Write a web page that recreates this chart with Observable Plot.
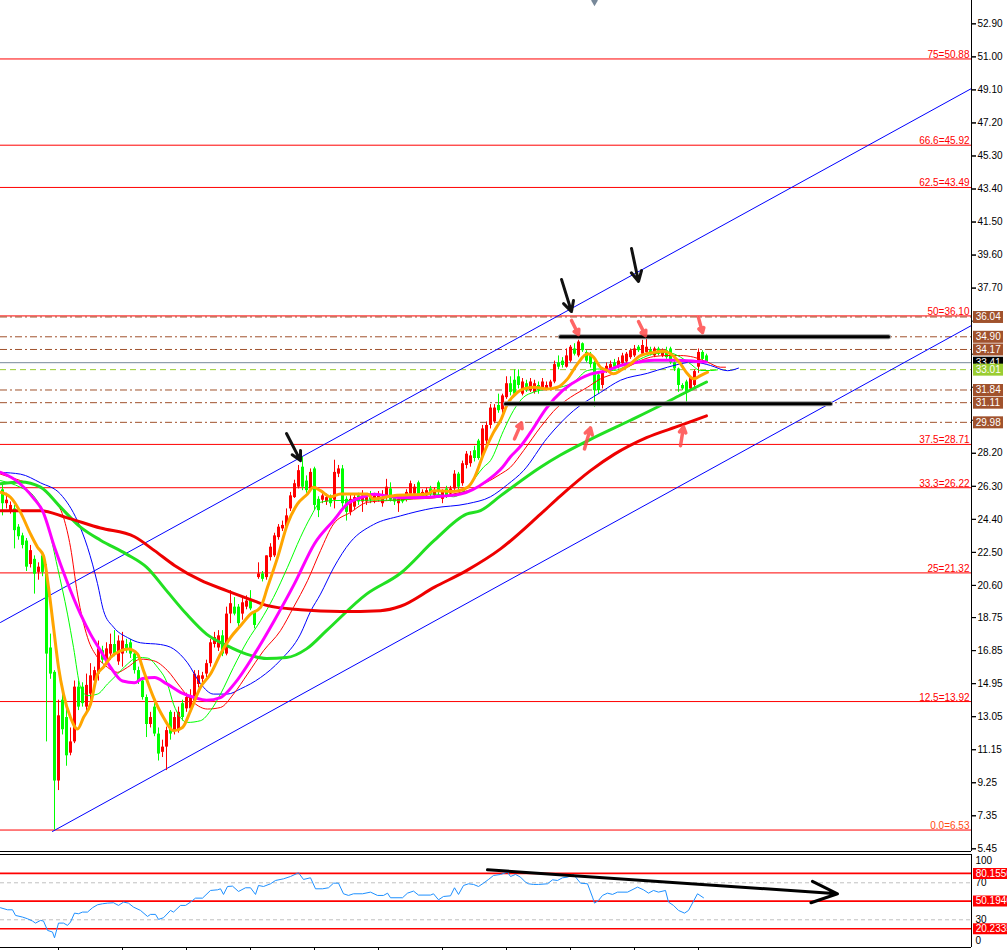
<!DOCTYPE html>
<html><head><meta charset="utf-8">
<script src="https://cdn.jsdelivr.net/npm/d3@7"></script>
<script src="https://cdn.jsdelivr.net/npm/@observablehq/plot@0.6"></script>
<style>
body{margin:0;background:#fff;}
#chart{width:1007px;height:950px;position:relative;overflow:hidden;background:#fff;}
#chart svg{display:block;}
</style></head><body><div id="chart"></div>
<script>
// ---------- price axis ----------
const priceTicks = [52.90,51.00,49.10,47.20,45.30,43.40,41.50,39.60,37.70,35.80,33.90,32.00,30.10,28.20,26.30,24.40,22.50,20.60,18.75,16.85,14.95,13.05,11.15,9.25,7.35,5.45];
const hiddenTickLabels = [35.80,33.90,32.00,30.10]; // covered by the price boxes in the reference
// ---------- fibonacci ----------
const fibLevels = ["75","66.6","62.5","50","37.5","33.3","25","12.5","0.0"];
const fibPrices = [50.88,45.92,43.49,36.10,28.71,26.22,21.32,13.92,6.53];
// ---------- horizontal levels ----------
const levelPrices = [36.04,34.90,34.17,31.84,31.11,29.98];
const bidPrice = [33.41];
const markPrice = [33.01];
// ---------- candles [open, high, low, close], one per bar ----------
const ohlc = [
[26.1,26.4,24.6,25.3],[25.3,25.9,25.0,25.5],[24.8,25.4,24.7,25.2],[25.0,25.2,22.7,23.75],[23.95,24.1,23.2,23.4],
[23.45,23.6,22.7,22.9],[23.15,23.3,21.4,21.65],[21.8,22.9,21.6,22.6],[22.1,22.3,20.1,21.25],[21.35,21.9,20.9,21.65],
[22.3,22.5,21.1,21.35],[21.35,21.8,11.6,16.65],[17.0,17.8,15.2,15.5],[15.6,15.7,6.53,9.35],[9.35,14.0,8.8,13.1],
[14.0,14.6,12.0,12.3],[13.0,13.6,10.2,10.8],[10.95,12.4,10.8,11.6],[11.6,15.1,11.5,14.75],[14.75,15.1,13.4,13.6],
[14.75,15.0,13.6,13.8],[13.6,15.5,13.2,14.85],[14.35,16.1,13.8,15.4],[15.1,15.9,14.9,15.7],[15.5,17.4,15.1,16.95],
[16.85,17.1,16.1,16.3],[16.2,17.3,16.0,16.95],[16.65,17.8,16.3,17.2],[17.2,18.0,16.5,16.65],[16.2,17.7,16.0,17.4],
[16.65,17.9,15.9,17.4],[17.2,17.5,16.7,16.85],[17.3,17.5,16.4,16.65],[16.65,16.8,15.5,15.7],[15.7,15.9,14.9,15.1],
[15.1,15.3,14.0,14.15],[14.15,14.3,11.85,12.6],[12.6,13.3,12.4,13.0],[13.6,13.8,11.9,12.05],[12.05,12.4,10.5,10.9],
[11.0,11.7,10.7,11.3],[11.3,12.45,9.95,12.25],[13.3,13.4,11.7,12.05],[12.25,13.3,12.0,13.0],[12.25,13.6,12.1,13.3],
[13.8,14.0,12.8,13.0],[13.5,14.4,13.3,14.15],[13.5,14.6,13.3,14.25],[13.95,15.7,13.8,15.5],[14.9,15.7,14.7,15.4],
[15.2,15.6,15.0,15.4],[15.5,16.3,15.3,16.1],[16.1,17.5,15.9,17.3],[17.2,17.9,17.0,17.6],[17.0,18.0,16.8,17.7],
[17.7,18.0,16.5,16.65],[16.65,19.35,16.55,18.95],[18.95,20.3,18.4,19.55],[19.35,19.9,18.85,18.95],[19.35,19.5,18.2,18.4],
[18.95,19.9,18.6,19.6],[19.35,20.0,19.2,19.7],[19.8,20.3,19.15,19.25],[19.05,19.15,18.1,18.3],[21.05,21.9,20.95,21.26],
[21.26,21.4,20.8,20.95],[21.05,22.3,20.9,22.3],[22.2,23.0,22.0,22.8],[22.3,23.6,22.2,23.45],[23.35,24.1,23.2,23.95],
[23.85,24.3,23.7,24.05],[23.95,25.0,23.85,24.6],[25.0,25.95,24.85,25.75],[25.65,26.65,25.6,26.45],[26.25,27.5,26.15,27.2],
[27.4,27.97,26.05,26.25],[26.6,26.9,25.9,26.05],[26.15,27.3,26.0,27.1],[27.3,27.4,24.9,25.2],[25.55,25.7,24.5,24.9],
[25.5,26.0,25.3,25.75],[25.4,25.85,25.2,25.65],[25.65,25.8,25.1,25.3],[25.5,27.8,25.0,27.1],[27.0,27.5,26.8,27.3],
[27.3,27.5,25.1,25.3],[25.55,25.7,24.3,24.8],[24.8,25.8,24.6,25.55],[25.1,25.85,24.9,25.65],[25.75,25.9,25.2,25.4],
[25.4,26.05,24.8,25.75],[25.4,25.8,25.2,25.65],[25.85,26.0,25.3,25.5],[25.5,25.9,25.3,25.75],[25.6,26.0,25.4,25.85],
[25.3,26.05,25.1,25.65],[25.65,26.7,25.5,26.25],[26.15,26.5,25.4,25.5],[25.65,25.8,25.2,25.4],[25.3,25.75,24.8,25.55],
[25.65,25.8,25.3,25.4],[25.55,26.1,25.4,25.95],[25.85,26.6,25.75,26.45],[25.85,26.4,25.7,26.25],[26.5,26.6,25.65,25.75],
[25.75,26.1,25.6,25.95],[25.75,26.2,25.6,26.05],[26.15,26.3,25.7,25.85],[25.75,26.2,25.6,26.05],[26.5,26.6,25.65,25.95],
[25.55,26.1,25.3,25.95],[26.15,26.3,25.6,25.75],[25.85,26.3,25.7,26.15],[26.15,27.2,26.0,27.0],[27.0,27.1,26.05,26.25],
[26.45,27.75,26.3,27.6],[27.5,28.3,27.3,28.15],[27.6,28.3,27.4,28.05],[28.35,28.6,27.7,27.9],[28.9,29.0,27.8,27.9],
[28.0,29.8,27.9,29.6],[28.9,30.0,28.7,29.8],[29.8,31.0,29.6,30.8],[30.0,31.0,29.9,30.8],[30.95,31.6,30.5,30.65],
[30.7,31.6,30.5,31.5],[31.4,32.6,31.3,32.2],[32.2,32.6,31.5,31.7],[32.4,33.0,31.5,31.6],[32.6,33.0,31.9,32.1],
[31.6,32.5,31.5,32.3],[32.2,32.4,31.7,31.8],[31.8,32.5,31.7,32.3],[31.7,32.4,31.6,32.2],[32.1,32.3,31.6,31.8],
[31.9,32.5,31.8,32.3],[31.9,32.3,31.8,32.1],[32.0,32.4,31.8,32.3],[32.3,33.5,32.2,33.3],[33.4,33.8,33.0,33.15],
[33.5,33.7,33.1,33.25],[33.15,34.2,33.1,33.8],[33.5,34.4,33.4,34.3],[34.2,34.5,33.8,33.9],[33.8,34.7,33.7,34.6],
[34.5,34.55,34.0,34.1],[34.0,34.1,33.4,33.5],[33.9,34.0,33.1,33.3],[33.4,33.5,30.85,31.8],[32.7,32.9,31.6,31.8],
[32.1,33.0,31.9,32.8],[32.9,33.4,32.8,33.2],[33.05,33.5,32.9,33.3],[33.4,33.6,33.0,33.15],[33.25,33.7,33.05,33.5],
[33.35,33.95,33.2,33.8],[33.45,34.0,33.3,33.9],[33.7,34.2,33.6,34.1],[33.8,34.4,33.7,34.2],[34.3,34.4,34.0,34.1],
[33.9,34.7,33.8,34.4],[34.0,34.97,33.9,34.3],[34.1,34.3,33.8,33.9],[33.8,34.3,33.7,34.2],[34.2,34.3,33.8,33.9],
[33.8,34.2,33.7,34.1],[34.1,34.3,33.6,33.7],[34.2,34.3,33.3,33.4],[33.4,33.5,32.9,33.05],[33.05,33.1,31.7,32.1],
[32.1,32.2,31.8,31.9],[32.3,32.4,31.1,31.7],[31.9,32.6,31.8,32.5],[32.1,33.0,31.9,32.9],[33.15,34.2,32.8,34.0],
[34.0,34.1,33.5,33.6],[33.8,33.9,33.4,33.41]
];
// ---------- moving averages [bar, price] ----------
const maRedThick = [[-0.5,24.9],[9.5,24.9],[16,24.5],[24.5,23.9],[33,23.4],[38,22.6],[43,21.75],[49.5,20.9],[56,20.3],[63,19.7],[66,19.45],[74.5,19.2],[84.5,19.1],[94.5,19.15],[99.5,19.4],[108,20.5],[116,21.45],[124.5,22.7],[134.5,24.7],[139.5,25.75],[147,27.2],[153,28.15],[161,29.1],[169.5,29.8],[176,30.35]];
const maGreenThick = [[-0.5,26.45],[4.5,26.55],[9.5,26.25],[14.5,25.1],[19.5,23.95],[24.5,23.2],[31,22.4],[36,21.65],[41,20.3],[46,18.95],[51,17.8],[56,17.15],[61,16.65],[66,16.4],[71,16.45],[76,16.95],[81,18.0],[91,20.1],[99.5,21.3],[108,23.2],[116,24.7],[119.5,24.9],[124.5,25.75],[134.5,27.4],[139.5,28.1],[147,29.0],[157,30.1],[164.5,30.95],[169.5,31.55],[176,32.3]];
const maBlue = [[-0.5,27.1],[4.5,27.0],[9.5,26.5],[14.5,25.85],[18.75,24.3],[21.25,22.8],[23.75,20.7],[25.25,19.15],[27.75,18.2],[31.25,17.6],[34.5,17.3],[39.5,17.2],[42.75,16.95],[46.25,16.15],[49.5,14.95],[52.75,14.35],[56.25,14.35],[59.5,14.65],[64.5,15.3],[69.5,16.3],[74.5,17.8],[77,19.1],[79.5,20.1],[82.75,21.6],[87,23.1],[92.75,24.1],[99.5,24.6],[107.75,25.05],[116.25,25.3],[122,25.7],[126.25,26.4],[130.25,27.2],[136.25,29.1],[142.75,30.65],[149.5,31.7],[154.5,32.4],[161.25,32.8],[166.25,33.15],[172.75,33.45],[177,33.25],[181.25,32.95],[184,33.1]];
const maRedThin = [[-0.5,27.0],[4.5,26.63],[9.5,26.24],[12.75,25.57],[15.25,24.52],[17,22.8],[18.75,20.1],[21.25,17.61],[23.75,16.46],[26.25,15.89],[28.75,15.6],[31.25,15.89],[34.5,16.36],[37.75,16.27],[41.25,15.7],[44.5,14.74],[47.75,13.87],[51.25,13.49],[54.5,13.58],[57.75,14.35],[61.25,15.5],[65.25,16.84],[69.5,18.0],[72.75,19.34],[76.25,20.87],[79.5,22.6],[82.75,24.13],[87,24.8],[91.25,25.38],[96.25,25.48],[102.75,25.57],[107.75,25.63],[112.75,25.86],[116.25,26.05],[120.25,26.44],[124.5,27.0],[127,27.4],[130.25,28.35],[134.5,29.7],[138.75,30.85],[142,31.42],[146.25,32.0],[149.5,32.48],[152.75,32.77],[156.25,33.15],[159.5,33.53],[162.75,33.76],[166.25,33.82],[169.5,33.82],[172.75,33.73],[176.25,33.44],[179.5,33.15],[180.75,33.15]];
const maGreenThin = [[-0.5,26.63],[4.5,26.24],[7.75,25.76],[11.25,24.13],[13.75,21.64],[16.25,18.95],[17.75,17.04],[19.5,14.74],[21.25,14.26],[23.75,14.35],[26.25,14.93],[28.75,15.5],[31.25,16.08],[33.75,16.46],[36.25,16.42],[38.75,15.89],[41.25,14.93],[42.75,13.77],[44.5,13.0],[46.25,12.72],[49.5,12.82],[52,13.39],[54.5,14.35],[57.75,15.89],[61.25,17.42],[64.5,18.57],[67.75,19.91],[71.25,21.64],[74.5,23.37],[77,24.52],[79.5,25.38],[82.75,25.48],[91.25,25.5],[99.5,25.5],[107.75,25.86],[112.75,25.7],[116.25,26.24],[120.25,27.4],[122,27.78],[125.25,29.5],[127.75,30.66],[130.25,31.42],[132.75,31.71],[136.25,31.9],[139.5,32.0],[142.75,32.29],[146.25,32.96],[149.5,33.05],[152.75,32.96],[156.25,33.25],[159.5,33.63],[162.75,33.92],[166.25,34.0],[169.5,33.73],[172,33.34],[174.5,32.96],[177,32.96],[178.75,33.0]];
const maMagenta = [[-0.5,27.1],[3,26.7],[8,25.55],[10,24.9],[13,22.8],[16,20.9],[19.5,18.95],[22,17.8],[24.5,16.85],[27,15.9],[30,15.1],[33,15.0],[35,15.25],[38,15.3],[41,14.95],[44.5,14.45],[48,14.15],[51,14.0],[54.5,14.15],[58,14.95],[63,16.65],[68,18.6],[73,20.7],[78,23.0],[83,24.4],[86,25.25],[89.5,25.65],[93,25.85],[96,25.75],[99.5,25.65],[104.5,25.65],[108,25.7],[114.5,25.85],[121,26.6],[125,27.4],[127,28.0],[129.5,28.6],[132,29.4],[136,30.8],[140,31.8],[144.5,32.5],[147,32.75],[151,32.95],[154.5,33.25],[159,33.45],[163,33.55],[168,33.55],[173,33.5],[176,33.45]];
const maOrange = [[-0.5,25.96],[2,25.67],[4.5,24.8],[7,23.56],[8.75,22.8],[10.25,22.3],[11.5,20.5],[12.75,18.2],[14,15.9],[15.25,14.35],[17,13.0],[18.75,12.34],[20.25,13.0],[22,13.77],[23.75,15.5],[25.25,15.9],[27,16.46],[29.5,16.84],[31.5,16.94],[33.75,16.65],[35.25,15.7],[37.75,14.16],[40.25,13.0],[42.75,12.24],[45,12.43],[47,13.39],[49.5,14.74],[52,15.5],[54.5,16.65],[57,17.6],[59.5,18.28],[62,18.95],[64.5,19.34],[66.25,20.49],[68.75,22.2],[71.25,24.13],[73.75,25.29],[76.25,25.86],[77.75,26.24],[79.5,26.05],[82,25.7],[84.5,25.86],[91.25,25.86],[92.75,25.57],[97.75,25.76],[106.25,25.86],[107.75,26.05],[112.25,26.0],[116.25,26.24],[118,26.8],[120.25,28.16],[122.75,29.4],[124.5,30.08],[126.25,31.04],[128.75,31.71],[130.25,31.9],[132.75,32.0],[136.25,31.9],[138.75,32.0],[141.25,32.48],[143.75,33.34],[146.25,33.92],[147.75,33.73],[149.5,33.15],[151.25,32.96],[152.75,32.77],[154.5,32.96],[157,33.34],[159.5,33.82],[162.75,34.0],[165.25,34.07],[167,33.92],[169.5,33.34],[171.25,32.77],[172.75,32.48],[174.5,32.67],[176.25,32.86]];
// ---------- drawn objects ----------
const channelUpper = [[-0.5,18.47],[242.25,49.18]];
const channelLower = [[12.5,6.45],[242.25,35.55]];
const resistance = [[139.5,34.9],[221.5,34.9]];
const support = [[125.75,31.05],[207,31.05]];
const blackArrows = [[71,29.34,74.5,27.78],[139.75,38.2,142.25,36.35],[157.25,39.98,159,38.08]];
const redArrows = [[142.25,35.84,144,35.03],[159,35.78,160.75,34.97],[174,36.0,175,35.14],[128,29.03,129.75,29.95],[145.5,28.45,147,29.66],[169.5,28.63,170.25,29.72]];
const topMarker = [[148,54.24]];
// ---------- RSI [bar, value] ----------
const rsi = [[-0.5,43.0],[1.25,40.8],[2.5,40.8],[3.25,34.7],[5,32.9],[6.25,31.1],[7.5,28.6],[8.25,26.4],[9.5,29.3],[10.25,28.6],[11.25,18.5],[12.5,16.7],[13,10.5],[14,26.4],[15.25,26.4],[16.25,23.9],[17,27.5],[18,37.2],[19,36.5],[20,38.3],[21.25,38.3],[22.5,43.0],[23.75,46.2],[25,47.3],[26.25,48.0],[27.75,48.4],[29,45.5],[30.25,49.1],[31.5,48.0],[32.75,43.7],[34.5,40.1],[36.25,33.6],[37,35.8],[38.25,35.8],[39,30.4],[40.25,32.2],[42,40.1],[42.75,38.3],[44.5,45.5],[45.75,45.5],[47,49.1],[48.25,53.4],[50,53.4],[52,61.7],[53.75,62.4],[54.5,63.5],[55.25,57.4],[56.25,66.0],[57.5,66.4],[59,60.6],[60.75,64.6],[62,64.6],[63.25,57.4],[64,67.1],[65.25,66.0],[67,68.9],[68.25,72.5],[70.25,74.3],[72,76.8],[74,80.8],[75.25,73.6],[77,75.4],[78.25,63.5],[80,63.5],[81.5,64.6],[82.75,69.6],[84,69.6],[85.25,58.1],[86.5,56.3],[87.75,58.1],[90,58.1],[92,59.9],[93.75,56.3],[95.25,56.3],[96.25,58.8],[97,53.8],[100,53.8],[101.25,58.8],[102.75,61.0],[104,56.7],[107,56.7],[107.75,58.1],[109,51.6],[110.25,55.2],[112,55.9],[113,64.6],[114,57.4],[115.25,67.1],[116.5,68.9],[117.75,68.2],[119,66.0],[120.25,69.6],[121.5,73.6],[122.75,77.9],[124.5,79.0],[126.25,81.5],[127,76.8],[128.25,79.0],[129.5,76.1],[130.75,70.7],[131.5,68.9],[132.75,68.2],[134,68.2],[136.25,68.9],[137.5,73.2],[138.75,72.5],[140,75.4],[141.25,76.1],[142.75,79.0],[144.5,69.6],[146.25,68.9],[147.5,54.5],[148,48.0],[149,50.9],[150,56.3],[151.25,58.8],[152.5,57.4],[153.75,59.9],[156.25,59.9],[158.75,65.3],[160.25,62.4],[161.5,58.8],[162.75,61.7],[164,59.9],[165.75,61.7],[166.5,49.1],[167.75,45.5],[169,40.1],[170.5,37.2],[171.5,40.1],[173.75,58.1],[175.25,53.8]];
const rsiLevels = [80.1556,50.1946,20.2335];
const rsiGrid = [70,30];
const rsiAxisTop = [100], rsiAxisMid = [70,30], rsiAxisBottom = [0];
const rsiTrend = [[121.25,84.05,208.75,58.1]];
const xTickBars = [14,30,46,62,78,94,110,126,142,158,174];

// ---------- scales / layout ----------
const xDomain = [-0.5, 242.25];
const priceDomain = [5.296, 54.242];
const rsiDomain = [0, 100.6];
const FONT = "'Liberation Sans', Arial, sans-serif";
const BOX_X1 = 242.75, BOX_X2 = 250.25, BOX_TX = 243.3;

const candles = ohlc.map((d, i) => ({i, o: d[0], h: d[1], l: d[2], c: d[3]}));
const bulls = candles.filter(d => d.c >= d.o);
const bears = candles.filter(d => d.c < d.o);
const px = d => d[0], py = d => d[1];
const maLine = (data, stroke, w) => Plot.line(data, {x: px, y: py, stroke, strokeWidth: w, curve: "monotone-x"});
const shownTicks = priceTicks.filter(t => !hiddenTickLabels.includes(t));

const main = Plot.plot({
  width: 1007, height: 852,
  marginLeft: 0, marginRight: 36, marginTop: 0, marginBottom: 1,
  style: {fontFamily: FONT, fontSize: "10px", background: "white", overflow: "visible"},
  x: {domain: xDomain, axis: null},
  y: {domain: priceDomain},
  marks: [
    Plot.ruleY(fibPrices, {stroke: "#ff0000", strokeWidth: 1}),
    Plot.ruleY(levelPrices, {stroke: "#a0522d", strokeDasharray: "7,3,2,3"}),
    Plot.ruleY(bidPrice, {stroke: "#778899"}),
    Plot.ruleY(markPrice, {stroke: "#9acd32", strokeDasharray: "6,4"}),
    Plot.line(channelUpper, {x: px, y: py, stroke: "#0000ff", strokeWidth: 1}),
    Plot.line(channelLower, {x: px, y: py, stroke: "#0000ff", strokeWidth: 1}),
    // candles
    Plot.ruleX(bulls, {x: "i", y1: "l", y2: "h", stroke: "#ff0000", strokeWidth: 1}),
    Plot.ruleX(bears, {x: "i", y1: "l", y2: "h", stroke: "#00ff00", strokeWidth: 1}),
    Plot.ruleX(bulls, {x: "i", y1: "o", y2: "c", stroke: "#ff0000", strokeWidth: 3}),
    Plot.ruleX(bears, {x: "i", y1: "o", y2: "c", stroke: "#00ff00", strokeWidth: 3}),
    // moving averages
    maLine(maBlue, "#0000ff", 1),
    maLine(maRedThin, "#ff0000", 1),
    maLine(maGreenThin, "#00ff00", 1),
    maLine(maGreenThick, "#22e022", 3),
    maLine(maRedThick, "#ee0000", 3),
    maLine(maMagenta, "#ff00ff", 3),
    maLine(maOrange, "#ffa500", 3),
    // support / resistance
    Plot.line(resistance, {x: px, y: py, stroke: "#9a9a9a", strokeWidth: 5}),
    Plot.line(resistance, {x: px, y: py, stroke: "#000", strokeWidth: 3}),
    Plot.line(support, {x: px, y: py, stroke: "#9a9a9a", strokeWidth: 5}),
    Plot.line(support, {x: px, y: py, stroke: "#000", strokeWidth: 3}),
    // arrows
    Plot.arrow(blackArrows, {x1: d => d[0], y1: d => d[1], x2: d => d[2], y2: d => d[3], stroke: "#111", strokeWidth: 3, headLength: 10, headAngle: 55}),
    Plot.arrow(redArrows, {x1: d => d[0], y1: d => d[1], x2: d => d[2], y2: d => d[3], stroke: "#ff4a4a", strokeWidth: 3.5, headLength: 9, headAngle: 60, strokeOpacity: 0.85}),
    Plot.dot(topMarker, {x: px, y: py, symbol: "diamond", r: 3.5, fill: "#778899"}),
    // fib labels
    Plot.text(fibPrices.slice(0, 8), {x: () => 241.75, y: d => d, text: (d, i) => `${fibLevels[i]}=${d.toFixed(2)}`, textAnchor: "end", lineAnchor: "bottom", dy: -1, fill: "#ff0000", fontSize: 10}),
    Plot.text(fibPrices.slice(8), {x: () => 241.75, y: d => d, text: (d, i) => `${fibLevels[8 + i]}=${d.toFixed(2)}`, textAnchor: "end", lineAnchor: "bottom", dy: -1, fill: "#ff4a10", fontSize: 10}),
    // axis: tick marks for every tick, labels for the visible ones
    Plot.axisY({anchor: "right", ticks: priceTicks, tickFormat: () => "", tickSize: 4, label: null}),
    Plot.axisY({anchor: "right", ticks: shownTicks, tickFormat: d => d.toFixed(2), tickSize: 4, tickPadding: 2, label: null, fontSize: 10}),
    Plot.ruleX([xDomain[1]], {stroke: "#000"}),
    Plot.ruleY([priceDomain[0]], {stroke: "#000"}),
    // price boxes
    Plot.ruleY(levelPrices, {x1: () => BOX_X1, x2: () => BOX_X2, stroke: "#a0522d", strokeWidth: 12}),
    Plot.text(levelPrices, {x: () => BOX_TX, y: d => d, text: d => d.toFixed(2), textAnchor: "start", fill: "#fff", fontSize: 10}),
    Plot.ruleY(bidPrice, {x1: () => BOX_X1, x2: () => BOX_X2, stroke: "#000", strokeWidth: 12}),
    Plot.text(bidPrice, {x: () => BOX_TX, y: d => d, text: d => d.toFixed(2), textAnchor: "start", fill: "#fff", fontSize: 10}),
    Plot.ruleY(markPrice, {x1: () => BOX_X1, x2: () => BOX_X2, stroke: "#9acd32", strokeWidth: 12}),
    Plot.text(markPrice, {x: () => BOX_TX, y: d => d, text: d => d.toFixed(2), textAnchor: "start", fill: "#fff", fontSize: 10})
  ]
});

const rsiPlot = Plot.plot({
  width: 1007, height: 98,
  marginLeft: 0, marginRight: 36, marginTop: 2, marginBottom: 3,
  style: {fontFamily: FONT, fontSize: "10px", background: "white", overflow: "visible"},
  x: {domain: xDomain},
  y: {domain: rsiDomain, axis: null},
  marks: [
    Plot.ruleY(rsiGrid, {stroke: "#c0c0c0", strokeDasharray: "4,3"}),
    Plot.ruleY(rsiLevels, {stroke: "#ff0000", strokeWidth: 1.6}),
    Plot.line(rsi, {x: px, y: py, stroke: "#1e90ff", strokeWidth: 1}),
    Plot.arrow(rsiTrend, {x1: d => d[0], y1: d => d[1], x2: d => d[2], y2: d => d[3], stroke: "#000", strokeWidth: 3, headLength: 14, headAngle: 45, ariaLabel: "rsi-trend"}),
    Plot.ruleY(rsiDomain, {stroke: "#000"}),
    Plot.ruleX([xDomain[1]], {stroke: "#000"}),
    Plot.axisX({anchor: "bottom", ticks: xTickBars, tickSize: 4, tickFormat: () => "", label: null}),
    Plot.text(rsiAxisTop, {x: () => xDomain[1], y: d => d, text: d => String(d), dx: 4, dy: 6, textAnchor: "start", fill: "#000", fontSize: 10}),
    Plot.text(rsiAxisMid, {x: () => xDomain[1], y: d => d, text: d => String(d), dx: 4, dy: 0, textAnchor: "start", fill: "#000", fontSize: 10}),
    Plot.text(rsiAxisBottom, {x: () => xDomain[1], y: d => d, text: d => String(d), dx: 4, dy: -7, textAnchor: "start", fill: "#000", fontSize: 10}),
    Plot.ruleY(rsiLevels, {x1: () => BOX_X1, x2: () => 252, stroke: "#ff0000", strokeWidth: 11}),
    Plot.text(rsiLevels, {x: () => BOX_TX, y: d => d, text: d => d.toFixed(4), textAnchor: "start", fill: "#fff", fontSize: 10})
  ]
});

// gradient for the RSI trend arrow
const svgSel = d3.select(rsiPlot);
svgSel.insert("defs", ":first-child").html('<linearGradient id="rsiArrowGrad" x1="0" x2="1" y1="0" y2="0"><stop offset="0" stop-color="#a8a8a8"/><stop offset="0.4" stop-color="#404040"/><stop offset="1" stop-color="#000"/></linearGradient>');
svgSel.selectAll('g[aria-label="rsi-trend"], g[aria-label="rsi-trend"] path').attr("stroke", "url(#rsiArrowGrad)");

const root = document.getElementById("chart");
root.appendChild(main);
root.appendChild(rsiPlot);
</script>
</body></html>
